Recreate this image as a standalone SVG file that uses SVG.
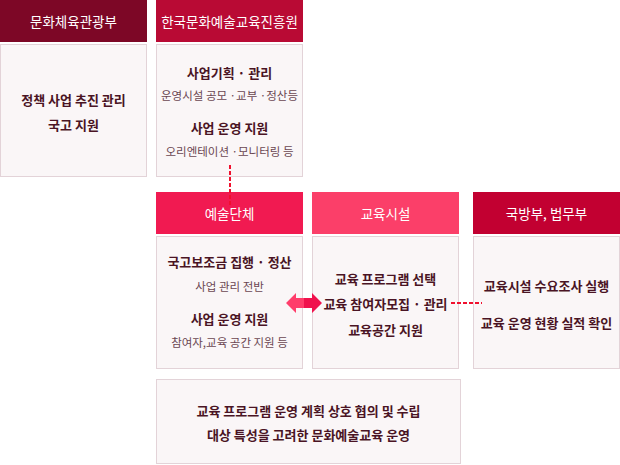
<svg xmlns="http://www.w3.org/2000/svg" width="620" height="465" viewBox="0 0 620 465">
<style>
.hd{font-family:"Noto Sans CJK KR","Noto Sans",sans-serif;font-size:13.5px;fill:#ffffff;text-anchor:middle;dominant-baseline:central;}
.b{font-family:"Noto Sans CJK KR","Noto Sans",sans-serif;font-size:13px;font-weight:bold;fill:#4a1424;text-anchor:middle;dominant-baseline:central;}
.s{font-family:"Noto Sans CJK KR","Noto Sans",sans-serif;font-size:11.5px;fill:#6a4652;text-anchor:middle;dominant-baseline:central;}
.body{fill:#faf6f7;stroke:#e3d3d8;stroke-width:1;}
.dash{stroke:#f0102e;stroke-width:2;stroke-dasharray:4 2;fill:none;}
</style>
<rect width="620" height="465" fill="#ffffff"/>
<g id="mcst">
<rect x="0" y="0" width="147" height="42" fill="#7d0726"/>
<text class="hd" x="73.5" y="21">문화체육관광부</text>
<rect class="body" x="0.5" y="44.5" width="146" height="132"/>
<text class="b" x="73.5" y="99.5">정책 사업 추진 관리</text>
<text class="b" x="73.5" y="124">국고 지원</text>
</g>
<g id="arte">
<rect x="156" y="0" width="147" height="42" fill="#b90a34"/>
<text class="hd" x="229.5" y="21">한국문화예술교육진흥원</text>
<rect class="body" x="156.5" y="44.5" width="146" height="132"/>
<text class="b" x="229.5" y="72">사업기획 · 관리</text>
<text class="s" x="229.5" y="95">운영시설 공모 ·교부 ·정산등</text>
<text class="b" x="229.5" y="127">사업 운영 지원</text>
<text class="s" x="229.5" y="151">오리엔테이션 ·모니터링 등</text>
</g>
<g id="arts-org">
<rect x="156" y="192" width="147" height="42" fill="#f11a51"/>
<text class="hd" x="229.5" y="213">예술단체</text>
<rect class="body" x="156.5" y="236.5" width="146" height="132"/>
<text class="b" x="229.5" y="261">국고보조금 집행 · 정산</text>
<text class="s" x="229.5" y="286">사업 관리 전반</text>
<text class="b" x="229.5" y="318">사업 운영 지원</text>
<text class="s" x="229.5" y="342">참여자,교육 공간 지원 등</text>
</g>
<g id="edu-facility">
<rect x="312" y="192" width="147" height="42" fill="#fb3f69"/>
<text class="hd" x="385.5" y="213">교육시설</text>
<rect class="body" x="312.5" y="236.5" width="146" height="132"/>
<text class="b" x="385.5" y="278">교육 프로그램 선택</text>
<text class="b" x="385.5" y="303">교육 참여자모집 · 관리</text>
<text class="b" x="385.5" y="329">교육공간 지원</text>
</g>
<g id="mnd-moj">
<rect x="473" y="192" width="147" height="42" fill="#c20031"/>
<text class="hd" x="546.5" y="213">국방부, 법무부</text>
<rect class="body" x="473.5" y="236.5" width="146" height="132"/>
<text class="b" x="546.5" y="285">교육시설 수요조사 실행</text>
<text class="b" x="546.5" y="322">교육 운영 현황 실적 확인</text>
</g>
<g id="joint">
<rect class="body" x="156.5" y="379.5" width="304" height="84"/>
<text class="b" x="308.5" y="410.5">교육 프로그램 운영 계획 상호 협의 및 수립</text>
<text class="b" x="308.5" y="434">대상 특성을 고려한 문화예술교육 운영</text>
</g>
<g id="connectors">
<line class="dash" x1="230" y1="165" x2="230" y2="205"/>
<line class="dash" x1="451" y1="303" x2="482" y2="303"/>
<polygon points="286,303 296,293 296,298 304,298 304,308 296,308 296,313" fill="#ff3d6b"/>
<polygon points="304,298 312,298 312,293 322,303 312,313 312,308 304,308" fill="#f0124d"/>
</g>
</svg>
